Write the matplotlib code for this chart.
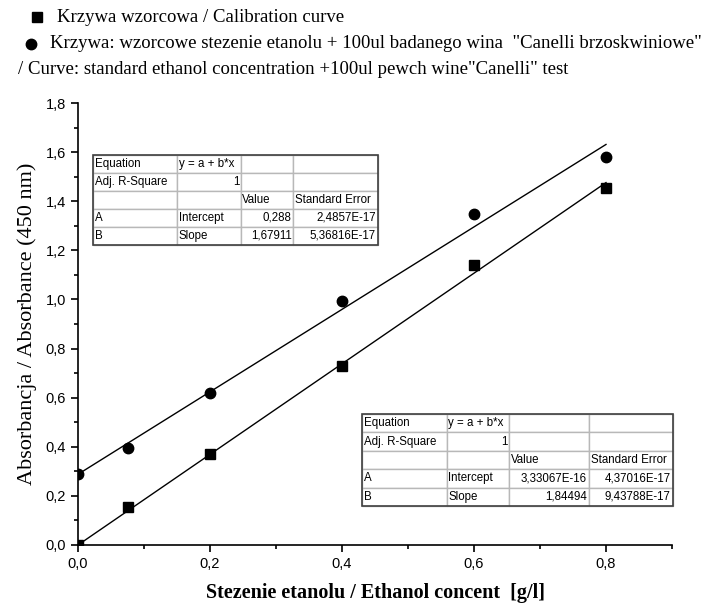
import matplotlib

matplotlib.use("Agg")
import matplotlib.pyplot as plt
from matplotlib.lines import Line2D
from matplotlib.patches import Rectangle
from matplotlib.ticker import FuncFormatter, MultipleLocator

# concentration of ethanol [g/l]
conc = [0.0, 0.075, 0.2, 0.4, 0.6, 0.8]
# calibration curve (squares)
abs_calib = [0.0, 0.155, 0.37, 0.73, 1.14, 1.455]
# standard + 100ul wine (circles)
abs_wine = [0.289, 0.397, 0.619, 0.993, 1.35, 1.58]

# linear fit parameters shown in the tables
fit_range = [0.0, 0.8]
wine_fit = (0.288, 1.67911)
calib_fit = (3.33067e-16, 1.84494)

wine_table = [
    ["Equation", "y = a + b*x", "", ""],
    ["Adj. R-Square", "1", "", ""],
    ["", "", "Value", "Standard Error"],
    ["A", "Intercept", "0,288", "2,4857E-17"],
    ["B", "Slope", "1,67911", "5,36816E-17"],
]
calib_table = [
    ["Equation", "y = a + b*x", "", ""],
    ["Adj. R-Square", "1", "", ""],
    ["", "", "Value", "Standard Error"],
    ["A", "Intercept", "3,33067E-16", "4,37016E-17"],
    ["B", "Slope", "1,84494", "9,43788E-17"],
]

SANS = "Liberation Sans"
SERIF = "Liberation Serif"


def comma(v, _pos):
    return f"{v:.1f}".replace(".", ",")


def is_number(s):
    return any(ch.isdigit() for ch in s) and not s.startswith("y")


def add_table(ax, rows, bbox, col_widths):
    tab = ax.table(cellText=rows, colWidths=col_widths, cellLoc="left", bbox=bbox)
    tab.auto_set_font_size(False)
    tab.set_fontsize(8.3)
    for (r, c), cell in tab.get_celld().items():
        cell.set_edgecolor("#b8b8b8")
        cell.set_linewidth(1.0)
        cell.PAD = 0.025
        txt = cell.get_text()
        txt.set_fontfamily(SANS)
        if is_number(txt.get_text()):
            cell._loc = "right"
            txt.set_horizontalalignment("right")
    ax.add_patch(Rectangle((bbox[0], bbox[1]), bbox[2], bbox[3], transform=ax.transAxes,
                           fill=False, edgecolor="#404040", linewidth=1.2, zorder=10, clip_on=False))


fig = plt.figure(figsize=(7.12, 6.10), dpi=100)
ax = fig.add_axes([0.1096, 0.1066, 0.8342, 0.7245])

ax.plot(conc, abs_calib, linestyle="none", marker="s", markersize=7, color="black")
ax.plot(conc, abs_wine, linestyle="none", marker="o", markersize=7.5, color="black")
for a, b in (wine_fit, calib_fit):
    ax.plot(fit_range, [a + b * x for x in fit_range], color="black", linewidth=1.0)

ax.set_xlim(0, 0.9)
ax.set_ylim(0, 1.8)
ax.xaxis.set_major_locator(MultipleLocator(0.2))
ax.xaxis.set_minor_locator(MultipleLocator(0.1))
ax.yaxis.set_major_locator(MultipleLocator(0.2))
ax.yaxis.set_minor_locator(MultipleLocator(0.1))
ax.xaxis.set_major_formatter(FuncFormatter(comma))
ax.yaxis.set_major_formatter(FuncFormatter(comma))
ax.tick_params(which="major", direction="out", length=5, width=1.2, labelsize=10.5)
ax.tick_params(which="minor", direction="out", length=3, width=1.2)
for lab in ax.get_xticklabels() + ax.get_yticklabels():
    lab.set_fontfamily(SANS)
for side in ("top", "right"):
    ax.spines[side].set_visible(False)
for side in ("left", "bottom"):
    ax.spines[side].set_linewidth(1.2)
ax.patch.set_alpha(0)

ax.set_xlabel("Stezenie etanolu / Ethanol concent  [g/l]", fontfamily=SERIF,
              fontweight="bold", fontsize=14.5, labelpad=9)
ax.set_ylabel("Absorbancja / Absorbance (450 nm)", fontfamily=SERIF, fontsize=16, labelpad=6)

add_table(ax, wine_table, [0.0253, 0.679, 0.48, 0.2036], [84, 64, 52, 85])
add_table(ax, calib_table, [0.478, 0.0882, 0.5236, 0.208], [85, 62, 80, 84])

# legend block at the top
fig.add_artist(Line2D([37 / 712], [1 - 17 / 610], marker="s", markersize=6.5, color="black",
                      linestyle="none", transform=fig.transFigure))
fig.add_artist(Line2D([31 / 712], [1 - 44 / 610], marker="o", markersize=7.5, color="black",
                      linestyle="none", transform=fig.transFigure))
fig.text(57 / 712, 1 - 17 / 610, "Krzywa wzorcowa / Calibration curve",
         fontfamily=SERIF, fontsize=13.5, va="center")
fig.text(50 / 712, 1 - 44 / 610,
         'Krzywa: wzorcowe stezenie etanolu + 100ul badanego wina  "Canelli brzoskwiniowe"',
         fontfamily=SERIF, fontsize=13.5, va="center")
fig.text(18 / 712, 1 - 69 / 610,
         '/ Curve: standard ethanol concentration +100ul pewch wine"Canelli" test',
         fontfamily=SERIF, fontsize=13.5, va="center")

fig.savefig("out.png", dpi=100)
